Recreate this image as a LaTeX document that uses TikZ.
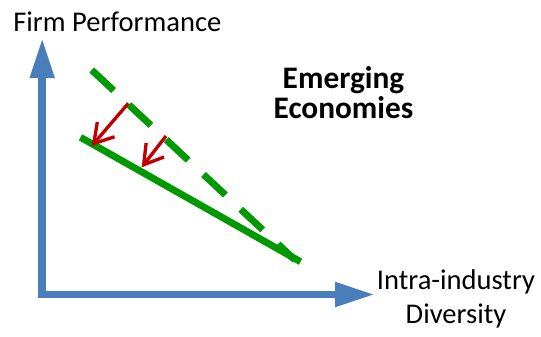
\documentclass[tikz,border=0pt]{standalone}
\usepackage{fontspec}
\setmainfont{Carlito}
\usetikzlibrary{arrows.meta}

\definecolor{axisblue}{RGB}{74,126,187}
\definecolor{trendgreen}{RGB}{0,153,0}
\definecolor{shiftred}{RGB}{192,0,0}

\tikzset{
  axis/.style={draw=axisblue, line width=5.8pt, line cap=rect, -{Triangle[length=30pt, width=17.25pt]}},
  trend/.style={draw=trendgreen, line width=5.2pt},
  shiftarrow/.style={draw=shiftred, line width=2.5pt, -{Straight Barb[length=14pt, width=17pt]}},
  label/.style={inner sep=0pt, font=\fontsize{21.4}{25.5}\selectfont}
}

\begin{document}
\begin{tikzpicture}[x=0.75pt,y=0.75pt,yscale=-1,xscale=1]
    \useasboundingbox (0,0) rectangle (541,336);

    % Axes
    \coordinate (O) at (42.2,294.5);
    \coordinate (ytip) at (42.2,38);
    \coordinate (xtip) at (375,294.5);
    \draw [axis] (O) -- (ytip);
    \draw [axis] (O) -- (xtip);

    % Axis labels (base = last line)
    \node (perf) [label, anchor=base west] at (13,31.7) {Firm Performance};
    \node (div) [label, align=center, anchor=base] at (456,323) {Intra-industry\\Diversity};

    % Title
    \node (emerg) [inner sep=0pt, align=center, anchor=base, font=\bfseries\fontsize{23.5}{22.5}\selectfont] at (343.5,118.3) {Emerging\\Economies};

    % Curves
    \coordinate (hi-start) at (91.7,70);
    \coordinate (hi-end) at (295,260);
    \coordinate (lo-start) at (80.5,137.3);
    \coordinate (lo-end) at (300.5,261.7);
    \draw [trend, dash pattern=on 22.5pt off 15.75pt] (hi-start) -- (hi-end);
    \draw [trend] (lo-start) -- (lo-end);

    % Downward shift
    \coordinate (shiftA-from) at (128.3,103.3);
    \coordinate (shiftA-to) at (91.7,146);
    \coordinate (shiftB-from) at (166,136);
    \coordinate (shiftB-to) at (141.7,167.3);
    \draw [shiftarrow] (shiftA-from) -- (shiftA-to);
    \draw [shiftarrow] (shiftB-from) -- (shiftB-to);

\end{tikzpicture}
\end{document}
